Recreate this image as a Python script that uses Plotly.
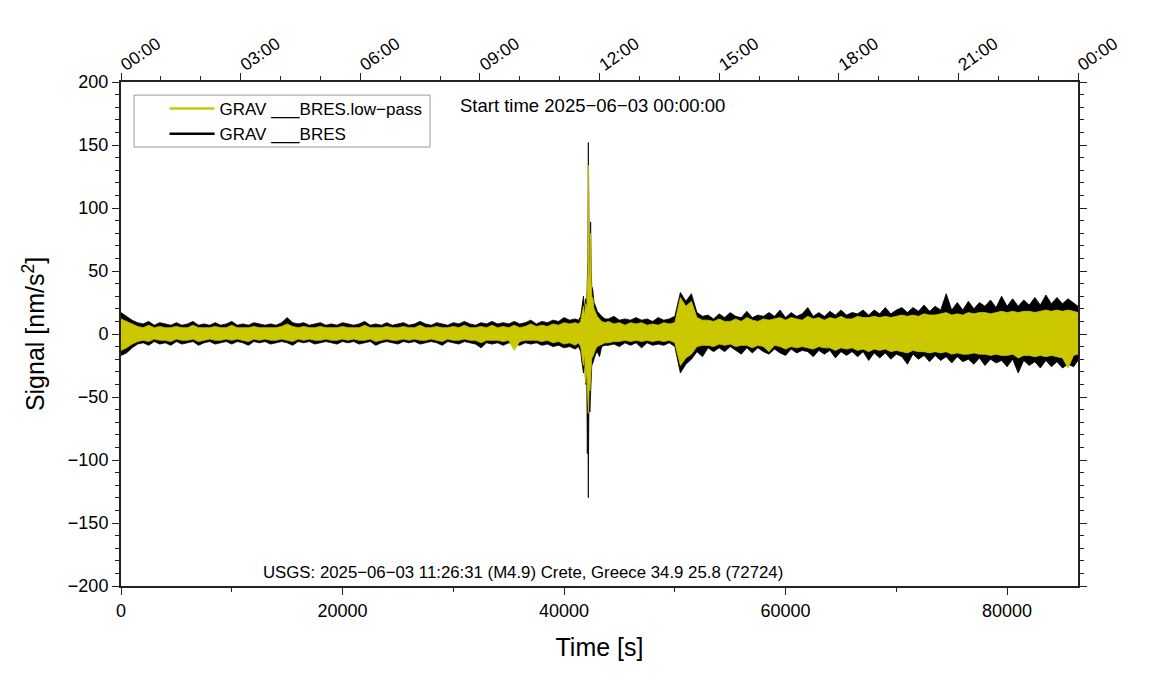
import plotly.graph_objects as go

# ---------------- data (envelopes) ----------------
# time grid, segment before the quake (every 500 s)
t_pre = list(range(0, 41001, 500))
black_hi_pre = [17, 14, 11, 9, 8, 10, 7, 9, 8, 7, 9, 7, 8, 10, 7, 8, 7, 9, 7, 8,
                10, 7, 8, 7, 9, 8, 7, 8, 7, 9, 13, 9, 8, 9, 7, 8, 9, 7, 8, 7,
                9, 8, 7, 8, 10, 7, 8, 7, 9, 7, 8, 9, 7, 8, 10, 8, 7, 9, 8, 7,
                9, 8, 10, 8, 7, 9, 8, 10, 8, 9, 8, 10, 8, 9, 11, 8, 10, 9, 11, 10,
                13, 11, 12]
black_lo_pre = [-17, -15, -11, -8, -7, -9, -6, -8, -7, -9, -6, -8, -7, -6, -9, -7, -6, -8, -7, -6,
                -8, -6, -7, -9, -6, -7, -6, -8, -7, -6, -7, -9, -6, -7, -6, -8, -7, -6, -7, -8,
                -6, -7, -6, -8, -7, -6, -9, -7, -6, -7, -8, -6, -7, -6, -8, -7, -6, -7, -9, -6,
                -7, -8, -6, -7, -8, -11, -7, -8, -7, -9, -7, -8, -9, -7, -8, -7, -9, -8, -10, -9,
                -11, -10, -12]
yellow_hi_pre = [12, 10, 8, 6, 5, 7, 5, 6, 5, 5, 6, 5, 5, 7, 5, 5, 5, 6, 5, 5,
                 7, 5, 5, 5, 6, 5, 5, 5, 5, 6, 8, 6, 5, 6, 5, 5, 6, 5, 5, 5,
                 6, 5, 5, 5, 7, 5, 5, 5, 6, 5, 5, 6, 5, 5, 7, 5, 5, 6, 5, 5,
                 6, 5, 7, 5, 5, 6, 5, 7, 5, 6, 5, 7, 5, 6, 8, 6, 7, 6, 8, 7,
                 9, 8, 9]
yellow_lo_pre = [-13, -11, -8, -6, -5, -6, -4, -5, -5, -6, -4, -5, -5, -4, -6, -5, -4, -5, -5, -4,
                 -5, -4, -5, -6, -4, -5, -4, -5, -5, -4, -5, -6, -4, -5, -4, -5, -5, -4, -5, -5,
                 -4, -5, -4, -5, -5, -4, -6, -5, -4, -5, -5, -4, -5, -4, -5, -5, -4, -5, -6, -4,
                 -5, -5, -4, -5, -5, -7, -5, -5, -5, -6, -5, -13, -6, -5, -5, -5, -6, -5, -7, -6,
                 -8, -7, -9]

# quake segment (finer time steps)
t_quake = [41300, 41500, 41650, 41750, 41850, 41950, 42050, 42100, 42150, 42190,
           42230, 42280, 42330, 42400, 42450, 42500, 42600, 42700, 42850, 43000,
           43200, 43400, 43700]
black_hi_quake = [11, 14, 22, 30, 18, 28, 24, 40, 60, 152,
                  70, 55, 45, 89, 50, 38, 35, 25, 22, 18,
                  16, 14, 12]
black_lo_quake = [-10, -14, -25, -31, -20, -40, -35, -95, -60, -130,
                  -70, -45, -62, -40, -30, -25, -23, -20, -16, -14,
                  -18, -10, -9]
yellow_hi_quake = [8, 10, 16, 22, 14, 24, 20, 30, 48, 134,
                   60, 48, 40, 80, 42, 30, 28, 20, 17, 14,
                   12, 10, 9]
yellow_lo_quake = [-7, -10, -18, -25, -15, -39, -28, -50, -45, -63,
                   -55, -35, -45, -30, -24, -19, -18, -15, -12, -10,
                   -9, -8, -7]

# after the quake (every 500 s, plus the end of the day)
t_post = list(range(44000, 86001, 500)) + [86400]
yellow_hi_post = [10, 8, 9, 7, 9, 8, 9, 7, 8, 7, 9, 8, 9, 29, 22, 26, 13, 11, 11, 10,
                  12, 10, 10, 12, 10, 13, 11, 10, 12, 11, 12, 13, 11, 13, 12, 11, 14, 12, 13, 11,
                  13, 12, 14, 12, 12, 14, 13, 13, 14, 13, 14, 13, 14, 15, 14, 15, 14, 16, 15, 15,
                  16, 17, 15, 16, 15, 17, 16, 17, 17, 16, 17, 18, 17, 18, 17, 18, 18, 17, 18, 19,
                  18, 19, 18, 19, 18, 17]
black_hi_post = [12, 14, 11, 12, 11, 13, 11, 12, 10, 13, 11, 12, 14, 33, 26, 32, 17, 14, 15, 12,
                 16, 13, 17, 14, 13, 18, 13, 15, 14, 17, 14, 19, 13, 17, 14, 16, 21, 14, 17, 14,
                 18, 15, 19, 15, 17, 16, 19, 15, 19, 16, 21, 16, 19, 21, 17, 21, 18, 23, 18, 22,
                 19, 32, 19, 25, 19, 26, 20, 25, 22, 27, 21, 30, 22, 28, 22, 27, 23, 29, 23, 31,
                 24, 29, 24, 28, 25, 22]
yellow_lo_post = [-7, -6, -6, -5, -6, -5, -6, -5, -6, -5, -6, -5, -7, -25, -19, -16, -10, -9, -9, -10,
                  -8, -9, -8, -10, -9, -9, -11, -9, -10, -14, -9, -10, -12, -10, -11, -10, -11, -12, -10, -11,
                  -11, -13, -11, -12, -11, -13, -12, -14, -12, -13, -12, -14, -13, -14, -15, -13, -14, -14, -15, -14,
                  -15, -14, -16, -15, -16, -16, -15, -16, -16, -17, -16, -17, -17, -16, -19, -17, -17, -18, -17, -18,
                  -17, -18, -19, -27, -17, -16]
black_lo_post = [-9, -8, -10, -7, -9, -7, -11, -7, -9, -8, -9, -7, -10, -31, -24, -20, -14, -18, -11, -14,
                 -11, -14, -10, -13, -16, -11, -15, -11, -14, -16, -12, -15, -17, -12, -15, -13, -14, -18, -13, -16,
                 -13, -19, -14, -17, -14, -18, -14, -21, -15, -19, -15, -20, -16, -18, -24, -16, -20, -17, -22, -17,
                 -21, -18, -23, -18, -22, -20, -24, -19, -25, -20, -23, -21, -26, -20, -31, -21, -25, -22, -27, -21,
                 -26, -22, -27, -24, -26, -21]

hour_ticks = [0, 10800, 21600, 32400, 43200, 54000, 64800, 75600, 86400]
hour_labels = ["00:00", "03:00", "06:00", "09:00", "12:00", "15:00", "18:00", "21:00", "00:00"]
sec_ticks = [0, 20000, 40000, 60000, 80000]
sec_minor = [10000, 30000, 50000, 70000]

name_lp = "GRAV ___BRES.low\u2212pass"
name_raw = "GRAV ___BRES"
start_text = "Start time 2025\u221206\u221203 00:00:00"
usgs_text = "USGS: 2025\u221206\u221203 11:26:31 (M4.9) Crete, Greece 34.9 25.8 (72724)"

# ---------------- assemble ----------------
t = t_pre + t_quake + t_post
black_hi = black_hi_pre + black_hi_quake + black_hi_post
black_lo = black_lo_pre + black_lo_quake + black_lo_post
yellow_hi = yellow_hi_pre + yellow_hi_quake + yellow_hi_post
yellow_lo = yellow_lo_pre + yellow_lo_quake + yellow_lo_post
for arr in (black_hi, black_lo, yellow_hi, yellow_lo):
    assert len(arr) == len(t), (len(arr), len(t))

BLACK = "#000000"
YELLOW = "#cbc800"
FONT = "Liberation Sans"
AX = "#222222"

fig = go.Figure()
fig.add_trace(go.Scatter(x=t, y=black_lo, mode="lines", line=dict(color=BLACK, width=0.8),
                         showlegend=False, hoverinfo="skip"))
fig.add_trace(go.Scatter(x=t, y=black_hi, mode="lines", line=dict(color=BLACK, width=0.8),
                         fill="tonexty", fillcolor=BLACK, showlegend=False, hoverinfo="skip"))
fig.add_trace(go.Scatter(x=t, y=yellow_lo, mode="lines", line=dict(color=YELLOW, width=0.8),
                         showlegend=False, hoverinfo="skip"))
fig.add_trace(go.Scatter(x=t, y=yellow_hi, mode="lines", line=dict(color=YELLOW, width=0.8),
                         fill="tonexty", fillcolor=YELLOW, showlegend=False, hoverinfo="skip"))
# legend entries
fig.add_trace(go.Scatter(x=[None], y=[None], mode="lines", name=name_lp,
                         line=dict(color=YELLOW, width=2.5), xaxis="x2"))
fig.add_trace(go.Scatter(x=[None], y=[None], mode="lines", name=name_raw,
                         line=dict(color=BLACK, width=2.5), xaxis="x2"))

fig.update_layout(
    width=1135, height=684,
    margin=dict(l=113, r=65, t=74, b=106, autoexpand=False),
    paper_bgcolor="white", plot_bgcolor="white",
    font=dict(family=FONT, color="black", size=17),
    showlegend=True,
    legend=dict(x=0.0455, y=0.982, xanchor="left", yanchor="top",
                bgcolor="rgba(0,0,0,0)", borderwidth=0,
                font=dict(size=17, family=FONT), itemwidth=45,
                traceorder="normal"),
    shapes=[dict(type="rect", xref="paper", yref="paper",
                 x0=0.0136, x1=0.3229, y0=0.871, y1=0.974,
                 line=dict(color="#999999", width=1), fillcolor="rgba(0,0,0,0)",
                 layer="above")],
    xaxis=dict(range=[0, 86400], tickvals=sec_ticks, ticktext=[str(v) for v in sec_ticks],
               ticks="outside", ticklen=7, automargin=False,
               tickwidth=1, tickcolor=AX, showline=True, linewidth=2, linecolor=AX,
               showgrid=False, zeroline=False, tickfont=dict(size=18),
               minor=dict(tickvals=sec_minor, ticks="outside",
                          ticklen=4, tickcolor=AX, showgrid=False),
               title=dict(text="Time [s]", font=dict(size=25), standoff=19)),
    xaxis2=dict(range=[0, 86400], overlaying="x", side="top", anchor="y",
                tickvals=hour_ticks, ticktext=hour_labels, tickangle=-35, automargin=False,
                ticks="outside", ticklen=7, tickwidth=1, tickcolor=AX,
                ticklabelstandoff=-7,
                showline=True, linewidth=2, linecolor=AX, showgrid=False, zeroline=False,
                tickfont=dict(size=17.5),
                minor=dict(dtick=3600, tick0=0, ticks="outside", ticklen=4,
                           tickcolor=AX, showgrid=False)),
    yaxis=dict(range=[-200, 200], tick0=-200, dtick=50, ticks="outside", ticklen=7,
               automargin=False,
               tickwidth=1, tickcolor=AX, showline=True, linewidth=2, linecolor=AX,
               mirror="ticks", showgrid=False, zeroline=False, tickfont=dict(size=18),
               minor=dict(dtick=10, ticks="outside", ticklen=4, tickcolor=AX, showgrid=False),
               title=dict(text="Signal [nm/s<sup>2</sup>]", font=dict(size=25), standoff=16)),
    annotations=[
        dict(text=start_text, x=0.4927, y=0.954, xref="paper", yref="paper",
             xanchor="center", yanchor="middle", showarrow=False, font=dict(size=18.5)),
        dict(text=usgs_text, x=0.42, y=0.004, xref="paper", yref="paper",
             xanchor="center", yanchor="bottom", showarrow=False, font=dict(size=16.8)),
    ],
)

fig.write_html("out.html")
